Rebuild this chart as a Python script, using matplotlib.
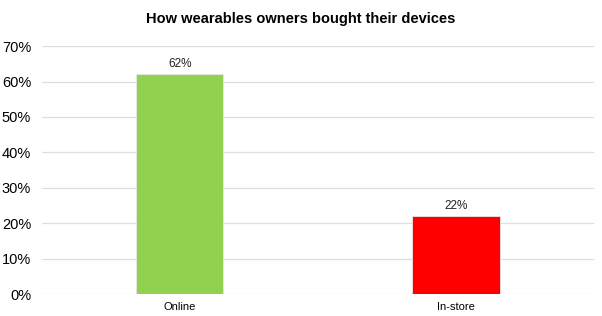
import matplotlib
matplotlib.use('Agg')
import matplotlib.pyplot as plt
from matplotlib.ticker import PercentFormatter

plt.rcParams['font.family'] = ['Liberation Sans', 'DejaVu Sans']

# data
categories = ['Online', 'In-store']
shares = [0.62, 0.22]
bar_colors = ['#92D050', '#FF0000']

fig = plt.figure(figsize=(6.02, 3.16), dpi=100)
ax = fig.add_axes([0.069, 0.0696, 0.918, 0.7844])

x = range(len(categories))
bars = ax.bar(x, shares, width=0.315, color=bar_colors, edgecolor='#e8e8e8', linewidth=0.6, zorder=3)

for b, v in zip(bars, shares):
    ax.text(b.get_x() + b.get_width() / 2, v + 0.012, f'{v:.0%}',
            ha='center', va='bottom', fontsize=8.5, color='#222222')

ax.set_xlim(-0.5, 1.5)
ax.set_ylim(0, 0.70)
ax.set_yticks([i / 10 for i in range(8)])
ax.yaxis.set_major_formatter(PercentFormatter(1.0, decimals=0))
ax.set_xticks(list(x))
ax.set_xticklabels(categories, fontsize=8)
ax.tick_params(axis='y', labelsize=10.5, length=0, pad=7.5)
ax.tick_params(axis='x', length=0, pad=6)

ax.grid(axis='y', color='#dedede', linewidth=0.9, zorder=0)
for s in ax.spines.values():
    s.set_visible(False)

fig.text(0.5, 0.94, 'How wearables owners bought their devices',
         ha='center', va='center', fontsize=10.5, fontweight='bold')

fig.savefig('out.png', dpi=100)
